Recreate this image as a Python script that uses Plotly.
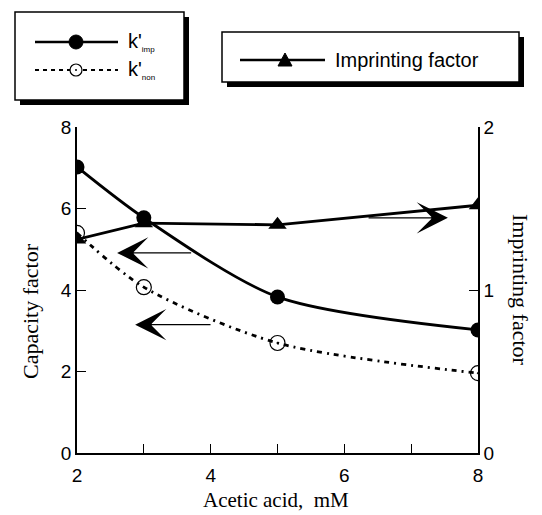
import plotly.graph_objects as go

acetic = [2, 3, 5, 8]
k_imp = [7.02, 5.77, 3.83, 3.02]
k_non = [5.40, 4.07, 2.70, 1.96]
imprint = [1.31, 1.41, 1.40, 1.52]

L, R, T, B = 77, 64, 127, 62
W, H = 542, 515
PW, PH = W - L - R, H - T - B


def px(x):
    return (x - L) / PW


def py(y):
    return (T + PH - y) / PH


fig = go.Figure()
fig.add_trace(go.Scatter(x=acetic, y=k_imp, mode="lines+markers",
                         line=dict(color="black", width=2.8, shape="spline", smoothing=0.8),
                         marker=dict(symbol="circle", size=15, color="black"), showlegend=False))
fig.add_trace(go.Scatter(x=acetic, y=k_non, mode="lines+markers",
                         line=dict(color="black", width=2.8, shape="spline", smoothing=0.8, dash="5px,5px,2px,5px"),
                         marker=dict(symbol="circle-open-dot", size=15, color="black", line=dict(width=1.2)),
                         showlegend=False))
fig.add_trace(go.Scatter(x=acetic, y=imprint, yaxis="y2", mode="lines+markers",
                         line=dict(color="black", width=2.8),
                         marker=dict(symbol="triangle-up", size=16, color="black"), showlegend=False))

# arrows (tail, head) in data coordinates of the left axis
arrows = [((3.73, 4.91), (2.60, 4.91)), ((4.02, 3.15), (2.87, 3.15)), ((6.34, 5.77), (7.55, 5.77))]
for (tx, ty), (hx, hy) in arrows:
    fig.add_annotation(x=hx, y=hy, ax=tx, ay=ty, xref="x", yref="y", axref="x", ayref="y",
                       text="", showarrow=True, arrowhead=3, arrowsize=4, arrowwidth=1.3,
                       arrowcolor="black")

shapes = []
# legend box 1
shapes.append(dict(type="rect", xref="paper", yref="paper", x0=px(20), x1=px(189), y0=py(105), y1=py(17),
                   fillcolor="black", line=dict(width=0)))
shapes.append(dict(type="rect", xref="paper", yref="paper", x0=px(15), x1=px(184), y0=py(100), y1=py(12),
                   fillcolor="white", line=dict(color="black", width=1.5)))
shapes.append(dict(type="line", xref="paper", yref="paper", x0=px(35), x1=px(118), y0=py(42), y1=py(42),
                   line=dict(color="black", width=2.5)))
shapes.append(dict(type="circle", xref="paper", yref="paper", x0=px(69), x1=px(83), y0=py(49), y1=py(35),
                   fillcolor="black", line=dict(color="black", width=1)))
shapes.append(dict(type="line", xref="paper", yref="paper", x0=px(35), x1=px(118), y0=py(70), y1=py(70),
                   line=dict(color="black", width=2, dash="4px,4px")))
shapes.append(dict(type="circle", xref="paper", yref="paper", x0=px(70), x1=px(82), y0=py(76), y1=py(64),
                   fillcolor="white", line=dict(color="black", width=1.2)))
shapes.append(dict(type="circle", xref="paper", yref="paper", x0=px(75), x1=px(77), y0=py(71), y1=py(69),
                   fillcolor="black", line=dict(color="black", width=0)))
# legend box 2
shapes.append(dict(type="rect", xref="paper", yref="paper", x0=px(227), x1=px(524), y0=py(87), y1=py(37),
                   fillcolor="black", line=dict(width=0)))
shapes.append(dict(type="rect", xref="paper", yref="paper", x0=px(222), x1=px(519), y0=py(82), y1=py(32),
                   fillcolor="white", line=dict(color="black", width=1.5)))
shapes.append(dict(type="line", xref="paper", yref="paper", x0=px(240), x1=px(325), y0=py(60), y1=py(60),
                   line=dict(color="black", width=2.5)))
shapes.append(dict(type="path", xref="paper", yref="paper",
                   path=f"M {px(278)} {py(66)} L {px(292)} {py(66)} L {px(285)} {py(53)} Z",
                   fillcolor="black", line=dict(color="black", width=1)))
for s in shapes:
    s["layer"] = "above"
fig.update_layout(shapes=shapes)

sans = "Liberation Sans, Arial, sans-serif"
serif = "Liberation Serif, Times New Roman, serif"
fig.add_annotation(x=px(126), y=py(42), xref="paper", yref="paper", xanchor="left", yanchor="middle",
                   text="k'<sub><span style='font-size:8px'>imp</span></sub>", showarrow=False,
                   font=dict(family=sans, size=20, color="black"))
fig.add_annotation(x=px(126), y=py(70), xref="paper", yref="paper", xanchor="left", yanchor="middle",
                   text="k'<sub><span style='font-size:8px'>non</span></sub>", showarrow=False,
                   font=dict(family=sans, size=20, color="black"))
fig.add_annotation(x=px(333), y=py(60), xref="paper", yref="paper", xanchor="left", yanchor="middle",
                   text="Imprinting factor", showarrow=False,
                   font=dict(family=sans, size=20, color="black"))

# axis titles
fig.add_annotation(x=px(30), y=py(311), xref="paper", yref="paper", text="Capacity factor",
                   xanchor="center", yanchor="middle",
                   textangle=-90, showarrow=False, font=dict(family=serif, size=22, color="black"))
fig.add_annotation(x=px(521), y=py(290), xref="paper", yref="paper", text="Imprinting factor",
                   xanchor="center", yanchor="middle",
                   textangle=90, showarrow=False, font=dict(family=serif, size=22, color="black"))
fig.add_annotation(x=px(276), y=py(500), xref="paper", yref="paper", text="Acetic acid,  mM",
                   xanchor="center", yanchor="middle",
                   showarrow=False, font=dict(family=serif, size=21, color="black"))

fig.update_layout(
    width=W, height=H, margin=dict(l=L, r=R, t=T, b=B),
    paper_bgcolor="white", plot_bgcolor="white",
    font=dict(family=sans, size=18, color="black"),
    xaxis=dict(range=[2, 8], tickvals=[2, 4, 6, 8], ticks="inside", ticklen=9, tickwidth=1,
               showline=True, linecolor="black", linewidth=1.5, showgrid=False, zeroline=False,
               minor=dict(dtick=1, ticks="inside", ticklen=9, tickcolor="black", tickwidth=1),
               tickcolor="black", tickfont=dict(size=19), ticklabelstandoff=4),
    yaxis=dict(range=[0, 8], tickvals=[0, 2, 4, 6, 8], ticks="inside", ticklen=9,
               showline=True, linecolor="black", linewidth=1.5, showgrid=False, zeroline=False,
               tickcolor="black", tickfont=dict(size=19)),
    yaxis2=dict(range=[0, 2], tickvals=[0, 1, 2], ticks="inside", ticklen=9, overlaying="y", side="right",
                showline=True, linecolor="black", linewidth=1.5, showgrid=False, zeroline=False,
                tickcolor="black", tickfont=dict(size=19)),
)

fig.write_html("out.html")
